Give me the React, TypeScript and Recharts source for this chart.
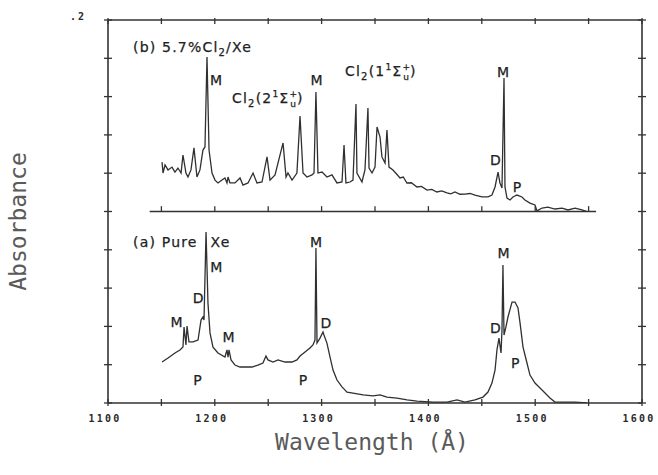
import React from 'react';
import { LineChart, Line, XAxis, YAxis, ReferenceLine, ReferenceDot, Label } from 'recharts';

const INK = '#333333';

// axis ticks
const xTicks = [1100, 1150, 1200, 1250, 1300, 1350, 1400, 1450, 1500, 1550, 1600];
const xLabelTicks = [1100, 1200, 1300, 1400, 1500, 1600];
const yTicks = [0, 0.02, 0.04, 0.06, 0.08, 0.1, 0.12, 0.14, 0.16, 0.18, 0.2];
const X_MIN = 1100;
const X_MAX = 1600;
const Y_MIN = 0;
const Y_MAX = 0.2;
const innerTicks = [1150, 1200, 1250, 1300, 1350, 1400, 1450, 1500, 1550];
const innerBaseStart = 1139;
const innerBaseEnd = 1557;

// offset of trace (b) above trace (a)
const OFFSET_B = 0.1;

// trace (b) 5.7% Cl2/Xe  (absorbance above its own baseline)
const bWave = [1150.6, 1151.5, 1153.4, 1156.2, 1159.9, 1162.7, 1165.5, 1168.4, 1170.2, 1173.0, 1174.9, 1177.7, 1180.5, 1183.3, 1186.1, 1188.9, 1190.8, 1192.7, 1194.6, 1197.4, 1200.2, 1203.0, 1206.7, 1209.5, 1211.4, 1212.4, 1214.2, 1218.9, 1223.6, 1226.4, 1231.1, 1235.8, 1239.5, 1244.2, 1248.9, 1251.7, 1256.4, 1263.9, 1266.7, 1268.5, 1272.3, 1276.9, 1279.8, 1282.6, 1286.3, 1291.0, 1292.9, 1294.7, 1296.6, 1300.4, 1305.0, 1309.7, 1314.4, 1319.1, 1321.0, 1322.8, 1326.6, 1329.4, 1332.2, 1333.1, 1337.8, 1340.6, 1343.4, 1344.4, 1347.2, 1350.0, 1351.9, 1354.7, 1356.5, 1359.4, 1361.2, 1363.1, 1366.8, 1370.2, 1373.4, 1376.5, 1379.9, 1384.0, 1389.3, 1393.5, 1398.7, 1403.2, 1408.0, 1412.5, 1417.4, 1421.0, 1424.9, 1429.5, 1434.3, 1439.0, 1443.6, 1450.2, 1455.8, 1459.5, 1462.4, 1465.2, 1467.0, 1468.9, 1470.8, 1471.7, 1473.6, 1476.4, 1479.2, 1482.9, 1487.6, 1490.4, 1495.1, 1499.8, 1501.7, 1506.4, 1511.9, 1518.5, 1525.1, 1530.7, 1537.3, 1543.8, 1548.5];
const bAbs = [0.0258, 0.0201, 0.0243, 0.0217, 0.0232, 0.0206, 0.0227, 0.0201, 0.0295, 0.0201, 0.0180, 0.0217, 0.0332, 0.0180, 0.0217, 0.0321, 0.0337, 0.0807, 0.0321, 0.0201, 0.0164, 0.0149, 0.0164, 0.0175, 0.0149, 0.0180, 0.0149, 0.0149, 0.0175, 0.0138, 0.0149, 0.0201, 0.0149, 0.0154, 0.0285, 0.0164, 0.0191, 0.0358, 0.0180, 0.0201, 0.0164, 0.0201, 0.0499, 0.0201, 0.0180, 0.0191, 0.0201, 0.0624, 0.0201, 0.0206, 0.0180, 0.0191, 0.0149, 0.0154, 0.0347, 0.0149, 0.0154, 0.0164, 0.0561, 0.0201, 0.0154, 0.0217, 0.0540, 0.0227, 0.0201, 0.0232, 0.0441, 0.0389, 0.0285, 0.0253, 0.0426, 0.0232, 0.0217, 0.0196, 0.0175, 0.0180, 0.0149, 0.0150, 0.0128, 0.0131, 0.0112, 0.0115, 0.0102, 0.0108, 0.0097, 0.0092, 0.0102, 0.0090, 0.0091, 0.0094, 0.0086, 0.0076, 0.0076, 0.0086, 0.0128, 0.0206, 0.0149, 0.0123, 0.0697, 0.0128, 0.0070, 0.0060, 0.0076, 0.0086, 0.0076, 0.0060, 0.0044, 0.0034, 0.0003, 0.0018, 0.0023, 0.0013, 0.0018, 0.0008, 0.0018, 0.0008, 0.0000];

// trace (a) pure Xe
const aWave = [1150.6, 1156.2, 1162.7, 1167.4, 1170.2, 1171.2, 1173.0, 1174.0, 1175.8, 1179.6, 1184.3, 1187.1, 1188.9, 1189.9, 1191.8, 1193.6, 1195.5, 1198.3, 1203.0, 1209.5, 1211.4, 1212.4, 1213.3, 1215.2, 1218.9, 1223.6, 1228.3, 1234.8, 1240.4, 1245.1, 1247.9, 1249.8, 1254.5, 1259.2, 1265.7, 1272.3, 1276.9, 1279.8, 1284.5, 1289.1, 1291.9, 1293.8, 1294.7, 1295.7, 1298.5, 1301.3, 1302.2, 1305.0, 1307.9, 1310.7, 1314.4, 1319.1, 1323.8, 1329.4, 1338.8, 1348.1, 1354.7, 1361.2, 1370.6, 1380.0, 1389.3, 1404.3, 1417.4, 1426.8, 1434.3, 1443.6, 1451.1, 1455.8, 1459.5, 1462.4, 1464.2, 1466.1, 1468.0, 1468.9, 1469.8, 1470.8, 1472.6, 1474.5, 1478.3, 1481.1, 1483.9, 1485.8, 1488.6, 1492.3, 1495.1, 1499.8, 1504.5, 1509.2, 1513.8, 1518.5, 1527.9, 1537.3, 1548.5];
const aAbs = [0.0214, 0.0235, 0.0261, 0.0277, 0.0292, 0.0397, 0.0303, 0.0402, 0.0319, 0.0319, 0.0329, 0.0433, 0.0449, 0.0433, 0.0893, 0.0522, 0.0366, 0.0292, 0.0261, 0.0240, 0.0277, 0.0240, 0.0277, 0.0225, 0.0198, 0.0188, 0.0188, 0.0188, 0.0198, 0.0209, 0.0245, 0.0225, 0.0214, 0.0225, 0.0214, 0.0214, 0.0225, 0.0245, 0.0266, 0.0287, 0.0303, 0.0329, 0.0809, 0.0313, 0.0339, 0.0371, 0.0355, 0.0313, 0.0240, 0.0172, 0.0120, 0.0084, 0.0057, 0.0052, 0.0042, 0.0037, 0.0042, 0.0031, 0.0026, 0.0016, 0.0010, 0.0005, 0.0005, 0.0016, 0.0005, 0.0016, 0.0031, 0.0057, 0.0104, 0.0172, 0.0277, 0.0339, 0.0261, 0.0381, 0.0721, 0.0355, 0.0397, 0.0449, 0.0527, 0.0527, 0.0496, 0.0418, 0.0292, 0.0209, 0.0146, 0.0104, 0.0078, 0.0052, 0.0026, 0.0005, 0.0005, 0.0005, 0.0000];

// annotations: wavelength, absorbance (text baseline), text, anchor
type Ann = { w: number; v: number; text: string; anchor: 'start' | 'middle' | 'end'; kind?: string };
const annotations: Ann[] = [
  { w: 1123.4, v: 0.1833, text: '(b) 5.7%', anchor: 'start', kind: 'b' },
  { w: 1201.1, v: 0.1661, text: 'M', anchor: 'middle' },
  { w: 1216.1, v: 0.1567, text: '2', anchor: 'start', kind: 'state' },
  { w: 1295.2, v: 0.1661, text: 'M', anchor: 'middle' },
  { w: 1321.9, v: 0.1708, text: '1', anchor: 'start', kind: 'state' },
  { w: 1469.8, v: 0.1702, text: 'M', anchor: 'middle' },
  { w: 1462.8, v: 0.1243, text: 'D', anchor: 'middle' },
  { w: 1482.9, v: 0.1102, text: 'P', anchor: 'middle' },
  { w: 1123.4, v: 0.0815, text: '(a) Pure', anchor: 'start' },
  { w: 1196.0, v: 0.0815, text: 'Xe', anchor: 'start' },
  { w: 1201.5, v: 0.0684, text: 'M', anchor: 'middle' },
  { w: 1184.3, v: 0.0522, text: 'D', anchor: 'middle' },
  { w: 1164.1, v: 0.0397, text: 'M', anchor: 'middle' },
  { w: 1212.8, v: 0.0319, text: 'M', anchor: 'middle' },
  { w: 1183.8, v: 0.0094, text: 'P', anchor: 'middle' },
  { w: 1294.7, v: 0.0815, text: 'M', anchor: 'middle' },
  { w: 1304.1, v: 0.0392, text: 'D', anchor: 'middle' },
  { w: 1282.6, v: 0.0094, text: 'P', anchor: 'middle' },
  { w: 1470.3, v: 0.0757, text: 'M', anchor: 'middle' },
  { w: 1462.8, v: 0.0366, text: 'D', anchor: 'middle' },
  { w: 1481.2, v: 0.0183, text: 'P', anchor: 'middle' },
];

const traceA = aWave.map((w, i) => ({ w, v: aAbs[i] }));
const traceB = bWave.map((w, i) => ({ w, v: bAbs[i] + OFFSET_B }));

const LABEL_FONT = '"DejaVu Sans", sans-serif';
const TICK_FONT = '"DejaVu Sans Mono", monospace';
const TITLE_FONT = '"DejaVu Sans Mono", monospace';

function annContent(a: Ann) {
  if (a.kind === 'b') {
    return [
      <tspan key="1">{a.text}Cl</tspan>,
      <tspan key="2" fontSize={10} dy={4}>2</tspan>,
      <tspan key="3" dy={-4}>/Xe</tspan>,
    ];
  }
  if (a.kind === 'state') {
    return [
      <tspan key="1">Cl</tspan>,
      <tspan key="2" fontSize={10} dy={4}>2</tspan>,
      <tspan key="3" dy={-4}>({a.text}</tspan>,
      <tspan key="4" fontSize={9} dy={-6}>1</tspan>,
      <tspan key="5" dy={6}>Σ</tspan>,
      <tspan key="6" fontSize={9} dy={-6}>+</tspan>,
      <tspan key="7" fontSize={9} dx={-8} dy={10}>u</tspan>,
      <tspan key="8" dy={-4}>)</tspan>,
    ];
  }
  return a.text;
}

function makeAnnLabel(a: Ann) {
  return (p: any) => {
    const vb = p.viewBox || {};
    const cx = (vb.x ?? 0) + (vb.width ?? 0) / 2;
    const cy = (vb.y ?? 0) + (vb.height ?? 0) / 2;
    return (
      <text
        x={cx}
        y={cy}
        textAnchor={a.anchor}
        fontFamily={LABEL_FONT}
        fontSize={14}
        letterSpacing={a.text.length > 1 || a.kind ? 1.2 : 0}
        fill="#222"
        stroke="#222"
        strokeWidth={0.25}
      >
        {annContent(a)}
      </text>
    );
  };
}

const BottomTick = (props: any) => {
  const { x, y, payload } = props;
  const val = payload.value;
  return (
    <g>
      <line x1={x} x2={x} y1={y - 4} y2={y + 3} stroke={INK} strokeWidth={1.3} />
      {xLabelTicks.includes(val) && (
        <text x={x - 3} y={y + 19} textAnchor="middle" fontFamily={TICK_FONT} fontWeight="bold" fontSize={10} letterSpacing={2.2} fill="#2a2a2a">
          {val}
        </text>
      )}
    </g>
  );
};

const TopTick = (props: any) => {
  const { x, y } = props;
  return <line x1={x} x2={x} y1={y - 2} y2={y + 4} stroke={INK} strokeWidth={1.3} />;
};

const LeftTick = (props: any) => {
  const { x, y, payload } = props;
  return (
    <g>
      <line x1={x - 4} x2={x + 4} y1={y} y2={y} stroke={INK} strokeWidth={1.3} />
      {payload.value === 0.2 && (
        <text x={x - 22} y={y} textAnchor="end" fontFamily={TICK_FONT} fontWeight="bold" fontSize={10} letterSpacing={2} fill="#2a2a2a">
          .2
        </text>
      )}
    </g>
  );
};

const RightTick = (props: any) => {
  const { x, y } = props;
  return <line x1={x - 4} x2={x + 4} y1={y} y2={y} stroke={INK} strokeWidth={1.3} />;
};

const XTitle = (p: any) => {
  const vb = p.viewBox || {};
  return (
    <text x={vb.x + vb.width / 2 - 3} y={vb.y + 47} textAnchor="middle" fontFamily={TITLE_FONT} fontSize={23} fill="#5a5a5a">
      Wavelength (Å)
    </text>
  );
};

const YTitle = (p: any) => {
  const vb = p.viewBox || {};
  const cx = vb.x + vb.width - 82;
  const cy = vb.y + vb.height / 2 + 10;
  return (
    <text x={cx} y={cy} textAnchor="middle" transform={`rotate(-90 ${cx} ${cy})`} fontFamily={TITLE_FONT} fontSize={23} fill="#5a5a5a">
      Absorbance
    </text>
  );
};

export default function App() {
  return (
    <div style={{ position: 'absolute', left: 0, top: 0, width: 658, height: 475, background: '#fff' }}>
      <LineChart width={658} height={475} margin={{ top: 19, right: 15, bottom: 71, left: 107 }}>
        <XAxis
          xAxisId="bottom"
          type="number"
          dataKey="w"
          domain={[X_MIN, X_MAX]}
          ticks={xTicks}
          interval={0}
          height={1}
          tickSize={0}
          tickMargin={0}
          tickLine={false}
          tick={<BottomTick />}
          axisLine={false}
          allowDataOverflow
        >
          <Label content={XTitle} />
        </XAxis>
        <XAxis
          xAxisId="top"
          orientation="top"
          type="number"
          dataKey="w"
          domain={[X_MIN, X_MAX]}
          ticks={xTicks}
          interval={0}
          height={1}
          tickSize={0}
          tickMargin={0}
          tickLine={false}
          tick={<TopTick />}
          axisLine={false}
          allowDataOverflow
        />
        <YAxis
          yAxisId="left"
          type="number"
          domain={[Y_MIN, Y_MAX]}
          ticks={yTicks}
          interval={0}
          width={1}
          tickSize={0}
          tickMargin={0}
          tickLine={false}
          tick={<LeftTick />}
          axisLine={false}
          allowDataOverflow
        >
          <Label content={YTitle} />
        </YAxis>
        <YAxis
          yAxisId="right"
          orientation="right"
          type="number"
          domain={[Y_MIN, Y_MAX]}
          ticks={yTicks}
          interval={0}
          width={1}
          tickSize={0}
          tickMargin={0}
          tickLine={false}
          tick={<RightTick />}
          axisLine={false}
          allowDataOverflow
        />

        {/* plot frame */}
        <ReferenceLine xAxisId="bottom" yAxisId="left" y={Y_MIN} stroke={INK} strokeWidth={1.6} ifOverflow="visible" />
        <ReferenceLine xAxisId="bottom" yAxisId="left" y={Y_MAX} stroke={INK} strokeWidth={1.6} ifOverflow="visible" />
        <ReferenceLine xAxisId="bottom" yAxisId="left" x={X_MIN} stroke={INK} strokeWidth={1.6} ifOverflow="visible" />
        <ReferenceLine xAxisId="bottom" yAxisId="left" x={X_MAX} stroke={INK} strokeWidth={1.6} ifOverflow="visible" />

        <ReferenceLine
          xAxisId="bottom"
          yAxisId="left"
          segment={[{ x: innerBaseStart, y: OFFSET_B }, { x: innerBaseEnd, y: OFFSET_B }]}
          stroke={INK}
          strokeWidth={1.5}
          ifOverflow="visible"
        />
        {innerTicks.map((t) => (
          <ReferenceLine
            key={`it${t}`}
            xAxisId="bottom"
            yAxisId="left"
            segment={[{ x: t, y: OFFSET_B }, { x: t, y: OFFSET_B + 0.0028 }]}
            stroke={INK}
            strokeWidth={1.3}
            ifOverflow="visible"
          />
        ))}

        <Line
          xAxisId="bottom"
          yAxisId="left"
          data={traceB}
          dataKey="v"
          type="linear"
          stroke="#303030"
          strokeWidth={1.3}
          dot={false}
          activeDot={false}
          isAnimationActive={false}
        />
        <Line
          xAxisId="bottom"
          yAxisId="left"
          data={traceA}
          dataKey="v"
          type="linear"
          stroke="#303030"
          strokeWidth={1.3}
          dot={false}
          activeDot={false}
          isAnimationActive={false}
        />

        {annotations.map((a, i) => (
          <ReferenceDot
            key={`ann${i}`}
            xAxisId="bottom"
            yAxisId="left"
            x={a.w}
            y={a.v}
            r={0}
            fill="none"
            stroke="none"
            ifOverflow="visible"
            label={makeAnnLabel(a)}
          />
        ))}
      </LineChart>
    </div>
  );
}
